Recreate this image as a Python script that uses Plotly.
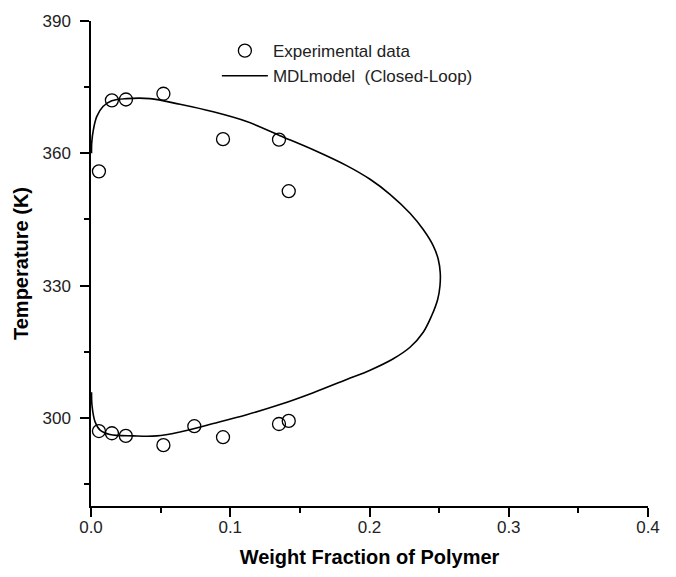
import plotly.graph_objects as go

# Experimental data (weight fraction, temperature K)
exp_w = [0.0057, 0.015, 0.0251, 0.052, 0.0948, 0.135, 0.142,
         0.0057, 0.015, 0.025, 0.052, 0.0742, 0.0948, 0.135, 0.142]
exp_T = [355.9, 372.0, 372.2, 373.5, 363.2, 363.1, 351.4,
         297.0, 296.5, 295.9, 293.8, 298.1, 295.6, 298.6, 299.3]

# MDL model closed-loop curve (upper branch -> right nose -> lower branch)
model_w = [0.0004, 0.0005, 0.0017, 0.0041, 0.0086, 0.0149, 0.0256, 0.0424,
           0.0639, 0.0878, 0.1118, 0.1357, 0.1596, 0.1836, 0.2004, 0.2147,
           0.2291, 0.2386, 0.2458, 0.2494, 0.2508, 0.2506,
           0.2490, 0.2447, 0.2386, 0.2291, 0.2171, 0.2004, 0.1836, 0.1596,
           0.1357, 0.1118, 0.0878, 0.0639, 0.0472, 0.0304, 0.0136, 0.0065,
           0.0029, 0.0007, 0.0004]
model_T = [360.0, 362.3, 365.3, 368.3, 370.6, 371.9, 372.4, 372.4,
           371.1, 369.4, 367.2, 364.0, 360.8, 357.2, 354.1, 350.7,
           346.4, 342.7, 339.0, 335.9, 332.9, 329.9,
           326.9, 323.2, 319.4, 316.0, 313.4, 310.8, 308.7, 305.7,
           303.0, 300.7, 298.7, 296.8, 295.9, 295.9, 296.2, 297.2,
           299.1, 302.9, 305.8]

FONT = "Liberation Sans, Arial, sans-serif"

fig = go.Figure()
fig.add_trace(go.Scatter(
    x=exp_w, y=exp_T, mode="markers", name="Experimental data",
    marker=dict(symbol="circle-open", size=13, color="black",
                line=dict(width=1.3, color="black")),
))
fig.add_trace(go.Scatter(
    x=model_w, y=model_T, mode="lines", name="MDLmodel  (Closed-Loop)",
    line=dict(color="black", width=1.6, shape="spline", smoothing=1.0),
))

axis_common = dict(
    showline=True, linecolor="black", linewidth=1.5,
    ticks="outside", ticklen=9, tickwidth=1.5, tickcolor="black",
    showgrid=False, zeroline=False, mirror=False,
    tickfont=dict(family=FONT, size=17, color="#222"),
)

fig.update_layout(
    width=676, height=577,
    margin=dict(l=91, r=28, t=17, b=71),
    paper_bgcolor="white", plot_bgcolor="white",
    font=dict(family=FONT, color="black"),
    showlegend=True,
    legend=dict(x=0.226, y=0.975, xanchor="left", yanchor="top",
                bgcolor="rgba(0,0,0,0)", font=dict(family=FONT, size=17, color="#222"),
                itemwidth=46, tracegroupgap=0),
    xaxis=dict(
        range=[0, 0.4], tick0=0, dtick=0.1, tickformat=".1f",
        ticklabelstandoff=-4,
        minor=dict(dtick=0.05, ticklen=5, tickwidth=1.5, tickcolor="black", ticks="outside"),
        title=dict(text="<b>Weight Fraction of Polymer</b>",
                   font=dict(family=FONT, size=20, color="black"), standoff=14),
        **axis_common,
    ),
    yaxis=dict(
        range=[280, 390], tick0=300, dtick=30,
        ticklabelstandoff=6,
        minor=dict(dtick=15, ticklen=5, tickwidth=1.5, tickcolor="black", ticks="outside"),
        title=dict(text="<b>Temperature (K)</b>",
                   font=dict(family=FONT, size=20, color="black"), standoff=8),
        **axis_common,
    ),
)

fig.write_html("out.html")
